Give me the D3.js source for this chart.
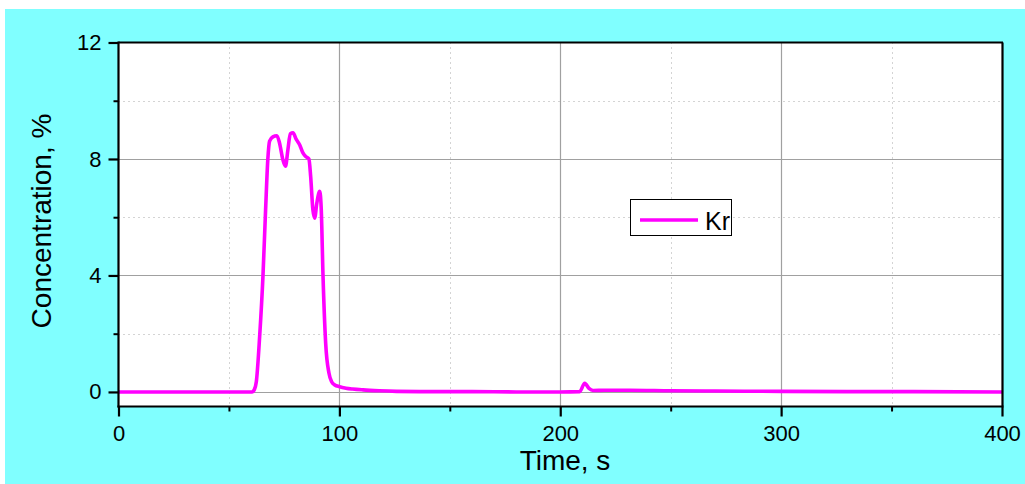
<!DOCTYPE html>
<html>
<head>
<meta charset="utf-8">
<script src="https://cdn.jsdelivr.net/npm/d3@7"></script>
<style>
  html, body { margin: 0; padding: 0; background: #ffffff; }
  svg { display: block; }
  text { font-family: "Liberation Sans", Arial, sans-serif; fill: #000; }
</style>
</head>
<body>
<svg id="chart" width="1025" height="484"></svg>
<script>
// Kr concentration over time
const timeS = [0, 20, 40, 55, 60.5, 61.5, 62.4, 63.9, 65.4, 66.6, 67.6, 68.4, 69.9, 71.7, 72.9, 74.4,
  75.6, 76.7, 77.8, 79.0, 80.5, 82.0, 83.5, 84.7, 86.2, 87.0, 88.0, 88.8, 89.8, 91.1, 91.8, 92.6,
  93.8, 95.3, 96.5, 97.9, 100.1, 103, 106, 110.7, 118, 125.8, 140, 160, 180, 200, 208.8, 211.1,
  213, 214.9, 220, 231.5, 250, 270, 300, 330, 360, 400];
const krConc = [0, 0, 0, 0, 0, 0.08, 0.35, 1.9, 3.97, 6.26, 7.98, 8.61, 8.76, 8.80, 8.55, 7.98,
  7.75, 8.32, 8.87, 8.90, 8.67, 8.49, 8.21, 8.09, 8.0, 7.40, 6.26, 5.97, 6.49, 6.89, 6.26, 3.97,
  1.67, 0.64, 0.35, 0.24, 0.18, 0.13, 0.10, 0.07, 0.04, 0.02, 0.01, 0.01, 0.0, 0.0, 0.01, 0.30,
  0.12, 0.05, 0.06, 0.06, 0.04, 0.03, 0.02, 0.01, 0.01, 0.0];
const xMajorTicks = [0, 100, 200, 300, 400];
const xMinorTicks = [50, 150, 250, 350];
const yMajorTicks = [0, 4, 8, 12];
const yMinorTicks = [2, 6, 10];
const seriesName = "Kr";
const xTitle = "Time, s";
const yTitle = "Concentration, %";

const svg = d3.select("#chart");
const W = 1025, H = 484;
const plot = { left: 118.5, right: 1002, top: 42.5, bottom: 406.5 };

// page background
svg.append("rect").attr("x", 5).attr("y", 9).attr("width", W - 5).attr("height", H - 9)
  .attr("fill", "#80ffff");

const x = d3.scaleLinear().domain([0, 400]).range([plot.left, plot.right]);
const y = d3.scaleLinear().domain([-0.5, 12]).range([plot.bottom, plot.top]);

// plot area
svg.append("rect").attr("x", plot.left).attr("y", plot.top)
  .attr("width", plot.right - plot.left).attr("height", plot.bottom - plot.top)
  .attr("fill", "#ffffff");

const grid = svg.append("g");
// minor grid (dotted)
grid.selectAll(".vminor").data(xMinorTicks).join("line")
  .attr("x1", d => Math.round(x(d)) + 0.5).attr("x2", d => Math.round(x(d)) + 0.5)
  .attr("y1", plot.top).attr("y2", plot.bottom)
  .attr("stroke", "#a8a8a8").attr("stroke-width", 1).attr("stroke-dasharray", "1,4");
grid.selectAll(".hminor").data(yMinorTicks).join("line")
  .attr("y1", d => Math.round(y(d)) + 0.5).attr("y2", d => Math.round(y(d)) + 0.5)
  .attr("x1", plot.left).attr("x2", plot.right)
  .attr("stroke", "#a8a8a8").attr("stroke-width", 1).attr("stroke-dasharray", "1,4");
// major grid (solid)
grid.selectAll(".vmajor").data(xMajorTicks.filter(d => d > 0 && d < 400)).join("line")
  .attr("x1", d => Math.round(x(d)) + 0.5).attr("x2", d => Math.round(x(d)) + 0.5)
  .attr("y1", plot.top).attr("y2", plot.bottom)
  .attr("stroke", "#a0a0a0").attr("stroke-width", 1.2);
grid.selectAll(".hmajor").data(yMajorTicks.filter(d => d < 12)).join("line")
  .attr("y1", d => Math.round(y(d)) + 0.5).attr("y2", d => Math.round(y(d)) + 0.5)
  .attr("x1", plot.left).attr("x2", plot.right)
  .attr("stroke", "#a0a0a0").attr("stroke-width", 1.2);

// data line
const pts = timeS.map((t, i) => [t, krConc[i]]);
const line = d3.line().x(d => x(d[0])).y(d => y(d[1])).curve(d3.curveMonotoneX);
svg.append("path").datum(pts).attr("d", line)
  .attr("fill", "none").attr("stroke", "#ff00ff").attr("stroke-width", 3.6)
  .attr("stroke-linejoin", "round");

// frame: top and right
svg.append("line").attr("x1", plot.left).attr("x2", plot.right + 1).attr("y1", plot.top).attr("y2", plot.top)
  .attr("stroke", "#000").attr("stroke-width", 2);
svg.append("line").attr("x1", plot.right + 0.5).attr("x2", plot.right + 0.5).attr("y1", plot.top).attr("y2", plot.bottom)
  .attr("stroke", "#000").attr("stroke-width", 2.2);

// bottom axis
const xAxis = svg.append("g").attr("transform", `translate(0,${plot.bottom})`)
  .call(d3.axisBottom(x).tickValues(xMajorTicks).tickSize(10).tickPadding(9).tickFormat(d3.format("d")));
xAxis.select(".domain").attr("stroke-width", 2.2).attr("d", `M${plot.left - 1},0H${plot.right + 1.5}`);
xAxis.selectAll(".tick line").attr("stroke-width", 2.2);
xAxis.selectAll(".tick text").attr("font-size", 22).attr("font-family", "Liberation Sans, Arial, sans-serif");
const xMinorAxis = svg.append("g").attr("transform", `translate(0,${plot.bottom})`)
  .call(d3.axisBottom(x).tickValues(xMinorTicks).tickSize(5).tickFormat(""));
xMinorAxis.select(".domain").remove();
xMinorAxis.selectAll(".tick line").attr("stroke-width", 2);

// left axis
const yAxis = svg.append("g").attr("transform", `translate(${plot.left},0)`)
  .call(d3.axisLeft(y).tickValues(yMajorTicks).tickSize(10).tickPadding(7).tickFormat(d3.format("d")));
yAxis.select(".domain").attr("stroke-width", 2.2).attr("d", `M0,${plot.top - 1}V${plot.bottom + 1}`);
yAxis.selectAll(".tick line").attr("stroke-width", 2.2);
yAxis.selectAll(".tick text").attr("font-size", 22).attr("font-family", "Liberation Sans, Arial, sans-serif");
const yMinorAxis = svg.append("g").attr("transform", `translate(${plot.left},0)`)
  .call(d3.axisLeft(y).tickValues(yMinorTicks).tickSize(5).tickFormat(""));
yMinorAxis.select(".domain").remove();
yMinorAxis.selectAll(".tick line").attr("stroke-width", 2);

// axis titles
svg.append("text").attr("x", 565).attr("y", 470).attr("text-anchor", "middle")
  .attr("font-size", 28).text(xTitle);
svg.append("text").attr("transform", "translate(51,221) rotate(-90)").attr("text-anchor", "middle")
  .attr("font-size", 28).text(yTitle);

// legend
const lg = svg.append("g");
lg.append("rect").attr("x", 630.5).attr("y", 199.5).attr("width", 101).attr("height", 36)
  .attr("fill", "#fff").attr("stroke", "#000").attr("stroke-width", 1);
lg.append("line").attr("x1", 640).attr("x2", 698).attr("y1", 220).attr("y2", 220)
  .attr("stroke", "#ff00ff").attr("stroke-width", 3.6);
lg.append("text").attr("x", 705).attr("y", 230).attr("font-size", 25).text(seriesName);
</script>
</body>
</html>
